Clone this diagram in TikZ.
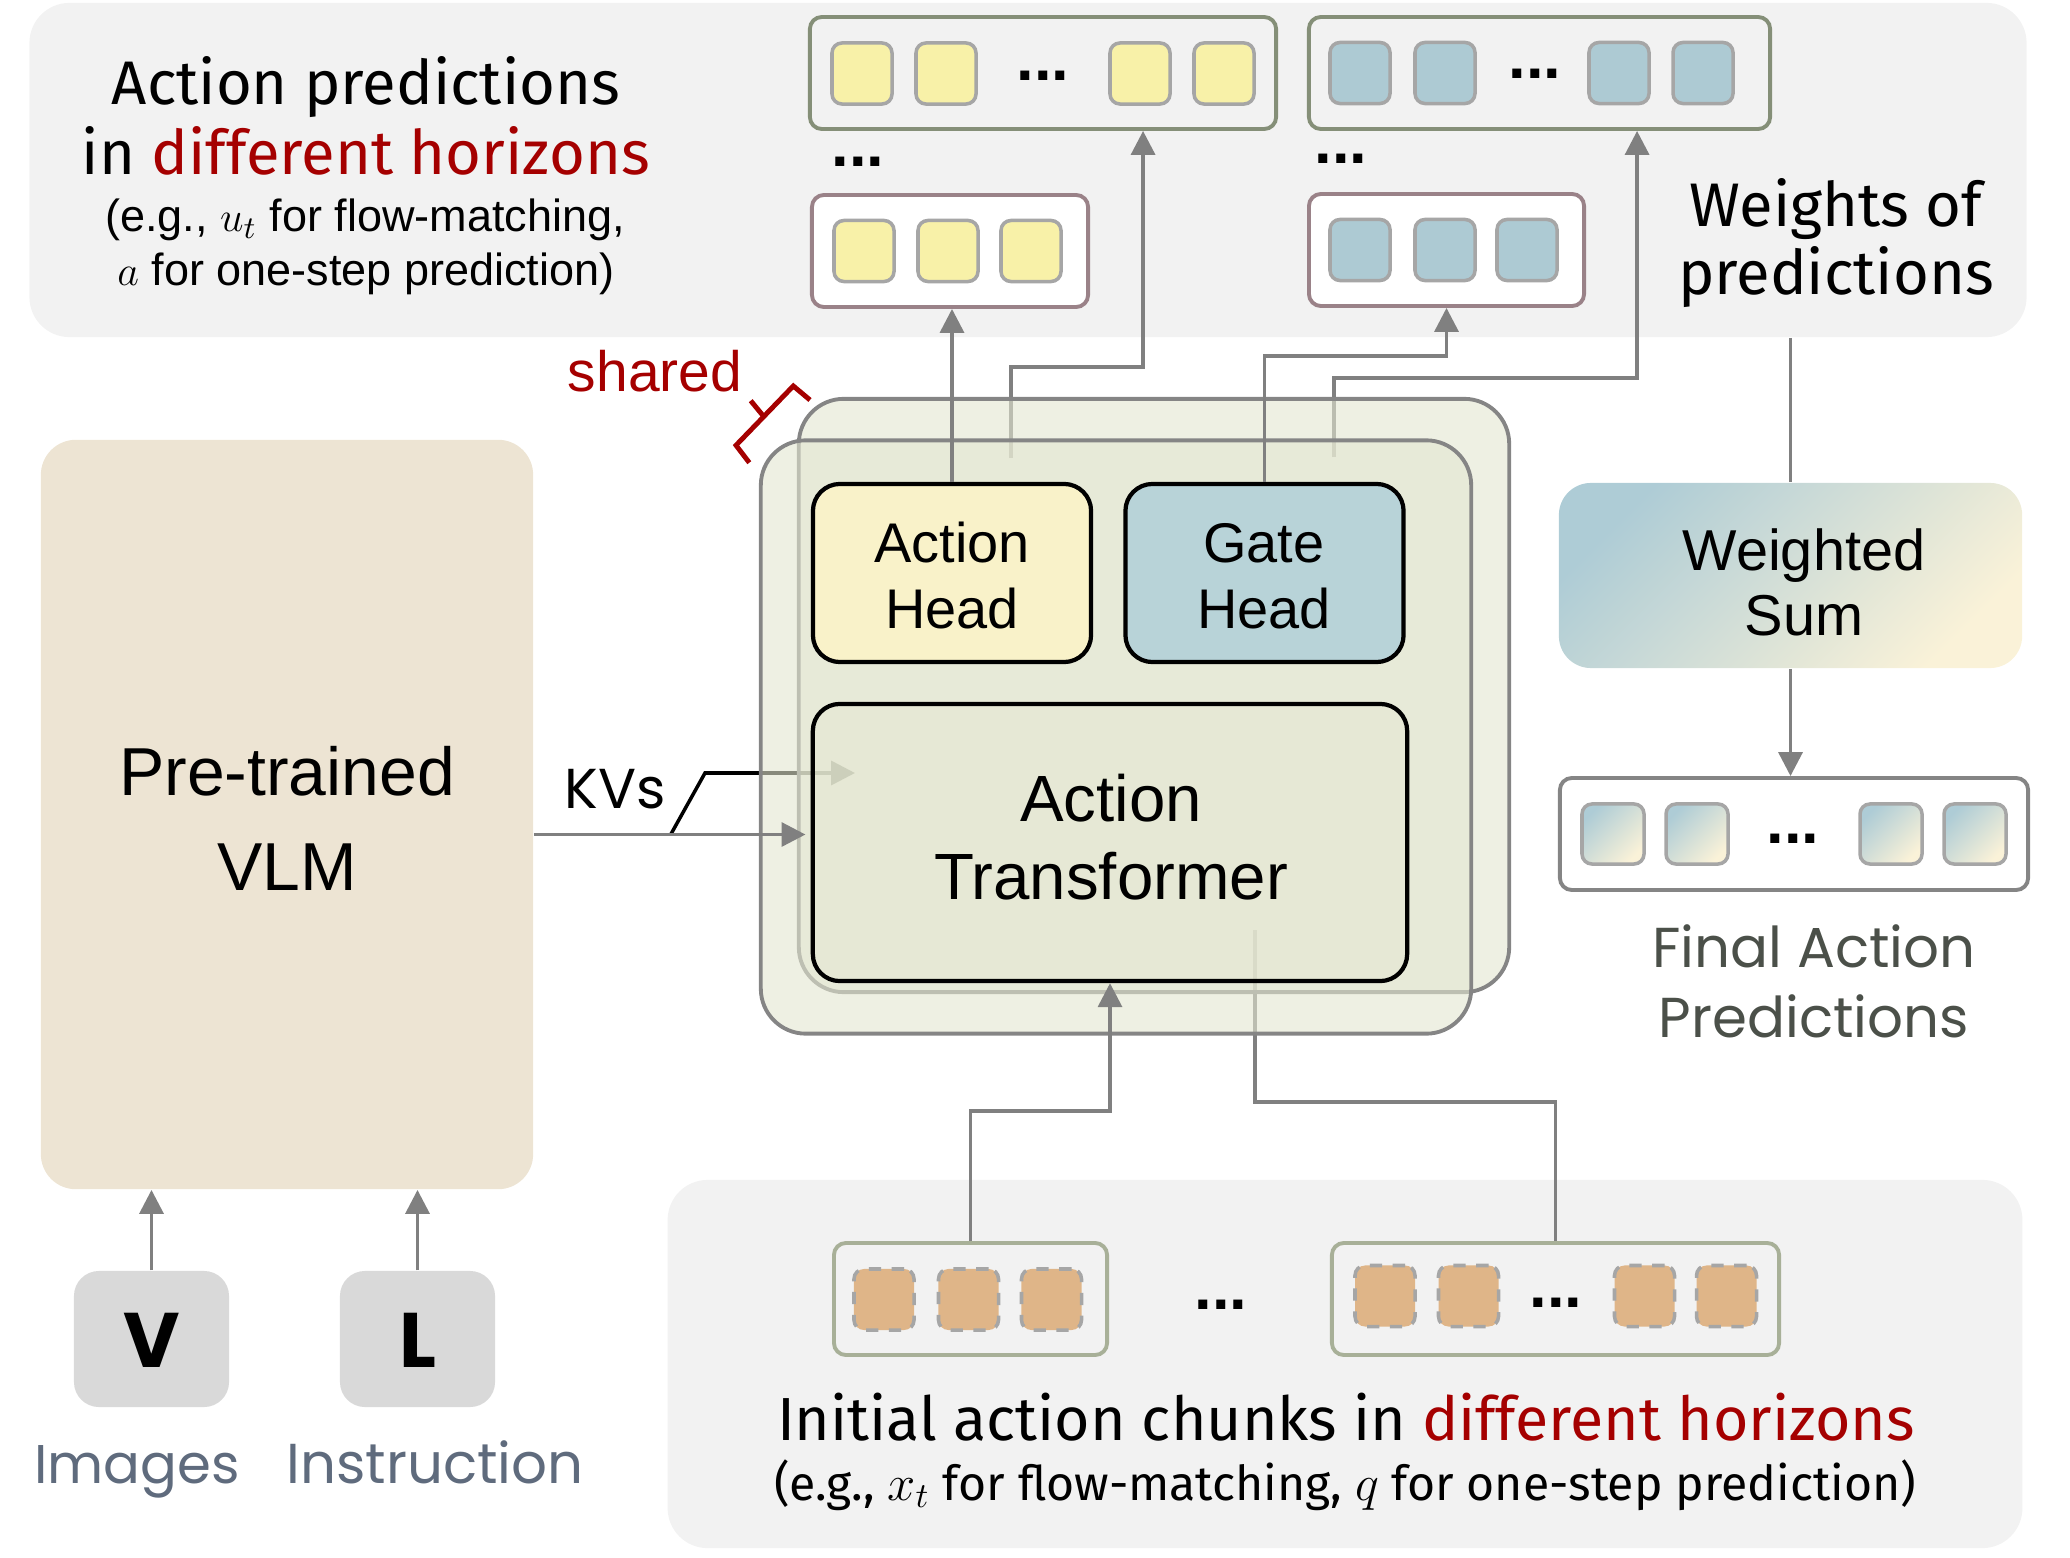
\documentclass[tikz,border=0pt]{standalone}
\usepackage{fontspec}
\setmainfont{Liberation Sans}
\newfontfamily\comic{Fira Sans}
\newfontfamily\comicw{Poppins}
\usetikzlibrary{arrows.meta,calc}
\definecolor{panelgray}{HTML}{F2F2F2}
\definecolor{vlmbeige}{HTML}{EDE4D3}
\definecolor{vlgray}{HTML}{D9D9D9}
\definecolor{slate}{HTML}{5F6B7D}
\definecolor{darkolive}{HTML}{4B5049}
\definecolor{yfill}{HTML}{F8F1A8}
\definecolor{bfill}{HTML}{ADCAD3}
\definecolor{sqgray}{HTML}{A6A6A6}
\definecolor{olivegray}{HTML}{858F78}
\definecolor{mauve}{HTML}{9A8288}
\definecolor{headyellow}{HTML}{F9F2C9}
\definecolor{headblue}{HTML}{B8D3D8}
\definecolor{darkred}{HTML}{A50000}
\definecolor{tanfill}{HTML}{DFB588}
\definecolor{sage}{HTML}{A8B098}
\definecolor{arrowgray}{HTML}{808080}
\definecolor{boxgray}{HTML}{858585}
\definecolor{layerfill}{HTML}{E3E6D0}
\definecolor{wsblue}{HTML}{AECCD6}
\definecolor{wscream}{HTML}{FAF2D8}
\begin{document}
\begin{tikzpicture}[x=0.01cm,y=-0.01cm,
  panel/.style={rectangle,fill=panelgray,rounded corners=0.4cm,inner sep=0pt},
  sq/.style={rectangle,rounded corners=0.1cm,line width=1pt,draw=sqgray,minimum width=0.6cm,minimum height=0.61cm,inner sep=0pt},
  ysq/.style={sq,fill=yfill},
  bsq/.style={sq,fill=bfill},
  tsq/.style={sq,fill=tanfill,dash pattern=on 3.5pt off 3pt},
  fsq/.style={sq,minimum width=0.62cm,minimum height=0.6cm,top color=wsblue,bottom color=wscream,shading angle=45},
  longbox/.style={rectangle,draw=olivegray,line width=1.1pt,rounded corners=0.12cm,fill=panelgray,minimum height=1.12cm,inner sep=0pt},
  shortbox/.style={longbox,draw=mauve,fill=white},
  chunkbox/.style={longbox,draw=sage},
  head/.style={rectangle,draw=black,line width=1.2pt,rounded corners=0.27cm,minimum width=2.78cm,minimum height=1.78cm,inner sep=0pt},
  layer/.style={rectangle,draw=boxgray,line width=1.1pt,rounded corners=0.45cm,fill=layerfill,fill opacity=0.6,minimum width=7.1cm,minimum height=5.93cm,inner sep=0pt},
  lbl/.style={anchor=base,inner sep=0pt},
  dots/.style={lbl,font=\bfseries\fontsize{18}{18}\selectfont},
  comicbig/.style={lbl,font=\comic\fontsize{17.5}{20}\selectfont},
  arr/.style={draw=arrowgray,line width=1pt,-{Triangle[length=6.8pt,width=6.8pt]}},
  conn/.style={draw=arrowgray,line width=1pt},
]
\useasboundingbox (0,0) rectangle (2070,1558);

% panels
\node[panel,minimum width=19.96cm,minimum height=3.34cm] (toppanel) at (1028,170) {};
\node[panel,minimum width=13.54cm,minimum height=3.68cm] (botpanel) at (1345,1364) {};

% top-left text
\node[comicbig] (tA1) at (366,105) {Action predictions};
\node[comicbig] (tA2) at (366,175) {in \textcolor{darkred}{different horizons}};
\node[lbl,font=\fontsize{12.8}{15}\selectfont] (tA3) at (365,232) {(e.g., $u_t$ for flow-matching,};
\node[lbl,font=\fontsize{12.8}{15}\selectfont] (tA4) at (366,286) {$a$ for one-step prediction)};
\node[comicbig] (tW1) at (1836,227) {Weights of};
\node[comicbig] (tW2) at (1836,295) {predictions};

% top prediction boxes
\node[longbox,minimum width=4.66cm] (ylong) at (1043,73) {};
\node[shortbox,minimum width=2.76cm] (yshort) at (950,251) {};
\node[longbox,minimum width=4.61cm] (blong) at (1539.5,73) {};
\node[shortbox,minimum width=2.75cm] (bshort) at (1446.5,250) {};
\foreach \x [count=\i] in {862,946,1140,1224} \node[ysq] (yl\i) at (\x,73.5) {};
\foreach \x [count=\i] in {864,948,1031} \node[ysq] (ys\i) at (\x,251) {};
\foreach \x [count=\i] in {1360,1445,1619,1703} \node[bsq] (bl\i) at (\x,73) {};
\foreach \x [count=\i] in {1360,1445,1527} \node[bsq] (bs\i) at (\x,250) {};
\node[dots] (dYL) at (1043,81) {...};
\node[dots] (dBL) at (1535,79) {...};
\node[dots] (dYM) at (858,167) {...};
\node[dots] (dBM) at (1341,164) {...};

% shared label and brace
\node[lbl,font=\fontsize{16.2}{19}\selectfont,text=darkred] (shT) at (655,392) {shared};
\draw[darkred,line width=1.4pt] (749.3,462.7) -- (736,445.3) -- (793.3,386) -- (810,400);
\draw[darkred,line width=1.4pt] (763.3,416) -- (750.7,400.7);

% VLM and inputs
\node[rectangle,fill=vlmbeige,rounded corners=0.35cm,minimum width=4.92cm,minimum height=7.49cm] (vlm) at (287,814.5) {};
\node[lbl,font=\fontsize{19.3}{23}\selectfont] (vlmT1) at (287,795) {Pre-trained};
\node[lbl,font=\fontsize{19.3}{23}\selectfont] (vlmT2) at (287,890) {VLM};
\node[rectangle,fill=vlgray,rounded corners=0.25cm,minimum width=1.55cm,minimum height=1.36cm] (vbox) at (151.5,1339) {};
\node[rectangle,fill=vlgray,rounded corners=0.25cm,minimum width=1.55cm,minimum height=1.36cm] (lbox) at (417.5,1339) {};
\node[lbl,font=\comicw\bfseries\fontsize{22}{22}\selectfont] (vT) at (152,1367) {V};
\node[lbl,font=\comicw\bfseries\fontsize{22}{22}\selectfont] (lT) at (418,1367) {L};
\node[lbl,font=\comicw\fontsize{15.5}{19}\selectfont,text=slate] (imgT) at (137,1483) {Images};
\node[lbl,font=\comicw\fontsize{16}{19}\selectfont,text=slate] (insT) at (435,1483) {Instruction};
\node[lbl,font=\comicw\fontsize{16}{19}\selectfont] (kvsL) at (615,808) {KVs};

% weighted sum and final predictions
\node[rectangle,rounded corners=0.32cm,minimum width=4.63cm,minimum height=1.85cm,top color=wsblue,bottom color=wscream,shading angle=45,inner sep=0pt] (wsum) at (1790.5,575.5) {};
\node[lbl,font=\fontsize{16.4}{19}\selectfont] (wsT1) at (1804,570) {Weighted};
\node[lbl,font=\fontsize{16.4}{19}\selectfont] (wsT2) at (1804,635) {Sum};
\node[rectangle,draw=boxgray,line width=1.1pt,fill=white,rounded corners=0.12cm,minimum width=4.68cm,minimum height=1.12cm,inner sep=0pt] (final) at (1794,834) {};
\foreach \x [count=\i] in {1613,1697,1891,1975} \node[fsq] (fs\i) at (\x,834) {};
\node[dots] (dF) at (1793,843) {...};
\node[lbl,font=\comicw\fontsize{16}{19}\selectfont,text=darkolive] (fT1) at (1814,967) {Final Action};
\node[lbl,font=\comicw\fontsize{16}{19}\selectfont,text=darkolive] (fT2) at (1814,1037) {Predictions};

% initial chunks
\node[chunkbox,minimum width=2.73cm] (c1) at (970.5,1299) {};
\node[chunkbox,minimum width=4.47cm] (c2) at (1555.5,1299) {};
\foreach \x [count=\i] in {884,968.5,1051.5} \node[tsq] (ca\i) at (\x,1299.5) {};
\foreach \x [count=\i] in {1385,1468.5,1644.5,1726.5} \node[tsq] (cb\i) at (\x,1296) {};
\node[dots] (dC) at (1221,1309) {...};
\node[dots] (dC2) at (1556,1307) {...};
\node[lbl,font=\comic\fontsize{17.3}{19}\selectfont] (bT1) at (1346,1440) {Initial action chunks in \textcolor{darkred}{different horizons}};
\node[lbl,font=\comic\fontsize{13.7}{15}\selectfont] (bT2) at (1345,1500) {(e.g., $x_t$ for flow-matching, $q$ for one-step prediction)};

% connectors of the back (shared) layer, drawn below the layers
\coordinate (bAH) at (1011,458);
\coordinate (bGH) at (1334,457);
\coordinate (bTR) at (1255,930);
\coordinate (kvA) at (671,834);
\coordinate (kvB) at (705,773);
\coordinate (kvTip) at (855,773);
\draw[arr] (bAH) -- (1011,367) -| ([xshift=1cm]ylong.south);
\draw[arr] (bGH) -- (1334,378) -| ([xshift=0.975cm]blong.south);
\draw[conn] (bTR) -- (1255,1102) -| (c2.north);
\draw[black,line width=1pt,-{Triangle[length=6.8pt,width=6.8pt]}] (kvA) -- (kvB) -- (kvTip);

% layers
\node[layer] (back) at (1154,695.5) {};
\node[layer] (front) at (1116,737) {};

% heads and transformer
\node[head,fill=headyellow] (ah) at (952,573) {};
\node[head,fill=headblue] (gh) at (1264.5,573) {};
\node[head,fill=layerfill,fill opacity=0.4,minimum width=5.94cm,minimum height=2.77cm] (tr) at (1110,842.5) {};
\node[lbl,font=\fontsize{15.9}{19}\selectfont] (ahT1) at (952,562) {Action};
\node[lbl,font=\fontsize{15.9}{19}\selectfont] (ahT2) at (952,628) {Head};
\node[lbl,font=\fontsize{15.9}{19}\selectfont] (ghT1) at (1264,562) {Gate};
\node[lbl,font=\fontsize{15.9}{19}\selectfont] (ghT2) at (1264,628) {Head};
\node[lbl,font=\fontsize{18.6}{22}\selectfont] (trT1) at (1111,821) {Action};
\node[lbl,font=\fontsize{18.6}{22}\selectfont] (trT2) at (1111,899) {Transformer};

% visible connectors
\draw[arr] (ah.north) -- (ah.north |- yshort.south);
\draw[arr] (gh.north) -- (1264.5,356) -| (bshort.south);
\draw[arr,shorten >=1.5pt] ([yshift=-0.2cm]vlm.east) -- ([yshift=-0.2cm]vlm.east -| tr.west);
\draw[arr] (c1.north) -- ++(0,-130) -| (tr.south);
\draw[arr] (vbox.north) -- (vbox.north |- vlm.south);
\draw[arr] (lbox.north) -- (lbox.north |- vlm.south);
\draw[conn] (wsum.north |- toppanel.south) -- (wsum.north);
\draw[arr] (wsum.south) -- (wsum.south |- final.north);
\end{tikzpicture}
\end{document}
